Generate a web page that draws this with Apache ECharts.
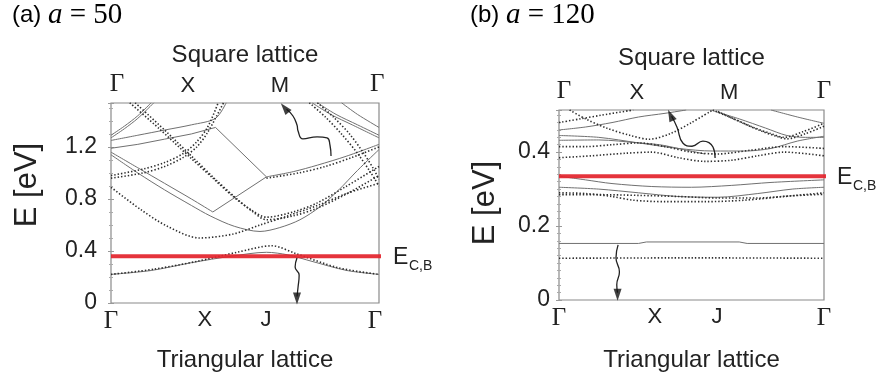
<!DOCTYPE html>
<html>
<head>
<meta charset="utf-8" />
<title>band structure a=50 / a=120</title>
<style>
  html, body { margin: 0; padding: 0; background: #fff; }
  #main { width: 879px; height: 385px; }
</style>
</head>
<body>
<div id="main"></div>
<script src="https://cdn.jsdelivr.net/npm/echarts@6/dist/echarts.min.js"></script>
<script>
// ---- tick labels (position along the k-path, 0..1) ----
var sqNames = ['Γ', 'X', 'M', 'Γ'];
var sqPosA = [0.022, 0.287, 0.63, 0.993];
var sqPosB = [0.019, 0.294, 0.642, 1];
var triNames = ['Γ', 'X', 'J', 'Γ'];
var triPosA = [0, 0.35, 0.578, 0.985];
var triPosB = [0, 0.362, 0.596, 1];

// E_C,B levels
var ecbA = 0.36;
var ecbB = 0.335;

// ---- (a) a = 50, solid bands ----
var aS1 = [[0,1.27],[0.05,1.34],[0.1,1.42],[0.16,1.54]];
var aS1b = [[0,1.29],[0.05,1.36],[0.1,1.44],[0.15,1.54]];
var aS2 = [[0,1.25],[0.1,1.29],[0.2,1.33],[0.3,1.37],[0.39,1.42],[0.43,1.54]];
var aS3 = [[0,1.19],[0.1,1.22],[0.2,1.26],[0.3,1.30],[0.39,1.35],[0.58,0.97]];
var aS4L = [[0,1.16],[0.1,1.04],[0.2,0.92],[0.3,0.80],[0.38,0.70]];
var aS4M = [[0.38,0.70],[0.58,0.97]];
var aS4R = [[0.58,0.97],[0.68,1.01],[0.77,1.06],[0.88,1.13],[1,1.22]];
var aS5 = [[0,1.14],[0.1,1.00],[0.2,0.87],[0.3,0.75],[0.37,0.67],[0.46,0.59],[0.556,0.55],[0.63,0.58],[0.705,0.64],[0.78,0.74],[0.85,0.87],[0.92,1.02],[1,1.18]];
var aS6 = [[0.75,1.54],[0.82,1.45],[0.9,1.37],[1,1.27]];
var aS6b = [[0.77,1.54],[0.84,1.45],[0.92,1.37],[1,1.29]];
var aS7 = [[0.86,1.54],[0.92,1.45],[1,1.35]];
var aS8 = [[0,0.22],[0.15,0.25],[0.3,0.31],[0.45,0.36],[0.58,0.39],[0.66,0.37],[0.75,0.32],[0.88,0.25],[1,0.22]];

// ---- (a) dotted bands ----
var aD1 = [[0,0.22],[0.16,0.26],[0.32,0.32],[0.47,0.39],[0.6,0.44],[0.69,0.38],[0.85,0.27],[1,0.22]];
var aD2 = [[0,0.89],[0.11,0.72],[0.21,0.59],[0.33,0.50],[0.455,0.53],[0.556,0.60],[0.66,0.67],[0.77,0.75],[0.89,0.85],[1,0.92]];
var aD3 = [[0.07,1.54],[0.18,1.34],[0.295,1.12],[0.38,0.96],[0.455,0.82],[0.52,0.72],[0.58,0.66],[0.68,0.70],[0.77,0.77],[0.88,0.9],[1,1.05]];
var aD3b = [[0.09,1.54],[0.2,1.33],[0.31,1.11],[0.39,0.95],[0.47,0.80],[0.53,0.70],[0.58,0.64],[0.68,0.67],[0.77,0.73],[0.88,0.84],[1,0.98]];
var aD4 = [[0,0.96],[0.12,1.0],[0.2,1.05],[0.27,1.12],[0.32,1.2],[0.36,1.31],[0.42,1.54]];
var aD4b = [[0,0.98],[0.12,1.03],[0.2,1.08],[0.27,1.15],[0.32,1.24],[0.36,1.35],[0.40,1.54]];
var aD6 = [[0.74,1.54],[0.8,1.43],[0.86,1.3],[0.92,1.15],[0.97,1.0],[1,0.9]];
var aD6b = [[0.77,1.54],[0.83,1.43],[0.89,1.3],[0.94,1.16],[0.98,1.03],[1,0.95]];
var aD7 = [[0.58,0.96],[0.7,1.0],[0.8,1.05],[0.9,1.12],[1,1.2]];

// ---- (b) a = 120, solid bands ----
var bS1 = [[0,0.335],[0.1,0.325],[0.2,0.315],[0.35,0.307],[0.5,0.305],[0.65,0.31],[0.8,0.318],[1,0.325]];
var bS2 = [[0,0.305],[0.15,0.3],[0.3,0.29],[0.45,0.28],[0.6,0.278],[0.75,0.288],[0.88,0.3],[1,0.305]];
var bS3 = [[0,0.153],[0.3,0.153],[0.33,0.157],[0.68,0.157],[0.71,0.153],[1,0.153]];
var bS4 = [[0,0.445],[0.15,0.44],[0.3,0.425],[0.45,0.41],[0.58,0.403],[0.7,0.403],[0.8,0.41],[0.9,0.43],[1,0.443]];
var bS5 = [[0,0.432],[0.15,0.433],[0.3,0.425],[0.38,0.42],[0.45,0.41],[0.55,0.395]];
var bS6 = [[0.58,0.512],[0.68,0.49],[0.78,0.465],[0.86,0.445],[0.93,0.44],[1,0.44]];
var bS7 = [[0.8,0.514],[0.9,0.495],[1,0.478]];
var bS8 = [[0,0.46],[0.1,0.468],[0.2,0.48],[0.3,0.495],[0.4,0.505],[0.48,0.514]];

// ---- (b) dotted bands ----
var bD1 = [[0,0.48],[0.08,0.49],[0.16,0.5],[0.28,0.514]];
var bD2 = [[0.04,0.514],[0.1,0.49],[0.18,0.465],[0.27,0.445],[0.34,0.435],[0.42,0.45],[0.5,0.48],[0.58,0.514]];
var bD3 = [[0.58,0.514],[0.66,0.49],[0.74,0.465],[0.8,0.45],[0.85,0.44],[0.92,0.455],[1,0.478]];
var bD4 = [[0.6,0.51],[0.68,0.483],[0.76,0.458],[0.82,0.443],[0.86,0.436],[0.93,0.45],[1,0.47]];
var bD5 = [[0,0.415],[0.1,0.415],[0.2,0.42],[0.3,0.425],[0.4,0.415],[0.5,0.4],[0.6,0.395],[0.72,0.405],[0.85,0.415],[1,0.41]];
var bD6 = [[0,0.385],[0.12,0.39],[0.25,0.397],[0.35,0.4],[0.45,0.385],[0.55,0.375],[0.65,0.378],[0.75,0.39],[0.85,0.4],[1,0.39]];
var bD7 = [[0,0.29],[0.1,0.288],[0.2,0.28],[0.28,0.27],[0.4,0.266],[0.55,0.266],[0.7,0.27],[0.85,0.28],[1,0.29]];
var bD8 = [[0,0.285],[0.15,0.285],[0.3,0.283],[0.45,0.28],[0.6,0.276],[0.75,0.276],[0.88,0.282],[1,0.286]];
var bD9 = [[0,0.113],[0.5,0.114],[1,0.113]];

// ---- wavy arrows ----
var waveA1 = [[0.821,1.131],[0.817,1.215],[0.806,1.269],[0.769,1.277],[0.716,1.262],[0.698,1.323],[0.694,1.369],[0.679,1.438],[0.655,1.49]];
var tipA1 = [[0.648,1.50]];
var waveA2 = [[0.694,0.346],[0.687,0.277],[0.702,0.215],[0.698,0.123],[0.694,0.05]];
var tipA2 = [[0.694,0.035]];
var waveB1 = [[0.589,0.384],[0.581,0.414],[0.543,0.43],[0.502,0.416],[0.468,0.424],[0.445,0.468],[0.425,0.497]];
var tipB1 = [[0.421,0.500]];
var waveB2 = [[0.223,0.149],[0.215,0.114],[0.228,0.076],[0.218,0.041],[0.221,0.02]];
var tipB2 = [[0.221,0.014]];

var _txt = '#222';
var _sans = 'Liberation Sans';
var _serif = 'Liberation Serif';

function band(data, dotted, panel, smooth) {
  return {
    type: 'line', data: data, symbol: 'none', silent: true,
    smooth: smooth === false ? false : 0.3,
    xAxisIndex: panel * 2, yAxisIndex: panel * 2,
    lineStyle: dotted ? { color: '#2e2e2e', width: 1.6, type: [1.4, 2] }
                      : { color: '#707070', width: 1 }
  };
}
function redLine(v, panel) {
  return {
    type: 'line', data: [[0, v], [1.03, v]], symbol: 'none', clip: false, z: 5,
    xAxisIndex: panel * 2, yAxisIndex: panel * 2,
    lineStyle: { color: '#e3232b', width: 4, opacity: 0.92 }
  };
}
function wave(data, tip, rot, panel) {
  return [{
    type: 'line', data: data, symbol: 'none', smooth: 0.5, z: 6,
    xAxisIndex: panel * 2, yAxisIndex: panel * 2,
    lineStyle: { color: '#222', width: 1.3 }
  }, {
    type: 'scatter', data: tip, symbol: 'triangle', symbolSize: [8, 12],
    symbolRotate: rot, z: 7, xAxisIndex: panel * 2, yAxisIndex: panel * 2,
    itemStyle: { color: '#111' }
  }];
}
function kLabel(names, pos) {
  return function (v) {
    var i = pos.indexOf(v);
    var n = i < 0 ? '' : names[i];
    return n === 'Γ' ? '{g|Γ}' : '{s|' + n + '}';
  };
}
var kRich = {
  g: { fontFamily: _serif, fontSize: 25, color: _txt },
  s: { fontFamily: _sans, fontSize: 22, color: _txt }
};
function xAxes(gi, botPos, topPos, botGap, topGap) {
  return [{
    type: 'value', gridIndex: gi, position: 'bottom', min: 0, max: 1,
    axisLine: { show: false }, axisTick: { show: false }, splitLine: { show: false },
    axisLabel: { customValues: botPos, formatter: kLabel(triNames, botPos), rich: kRich, margin: 6 },
    name: 'Triangular lattice', nameLocation: 'middle', nameGap: botGap,
    nameTextStyle: { fontFamily: _sans, fontSize: 24, color: _txt }
  }, {
    type: 'value', gridIndex: gi, position: 'top', min: 0, max: 1,
    axisLine: { show: false }, axisTick: { show: false }, splitLine: { show: false },
    axisLabel: { customValues: topPos, formatter: kLabel(sqNames, topPos), rich: kRich, margin: 6 },
    name: 'Square lattice', nameLocation: 'middle', nameGap: topGap,
    nameTextStyle: { fontFamily: _sans, fontSize: 24, color: _txt }
  }];
}
function yAxes(gi, max, interval, minorSplit, margin) {
  return [{
    type: 'value', gridIndex: gi, min: 0, max: max, interval: interval,
    axisLine: { show: false }, splitLine: { show: false },
    axisTick: { show: true, inside: true, length: 3, lineStyle: { color: '#999' } },
    minorTick: { show: true, splitNumber: minorSplit, length: 2, lineStyle: { color: '#aaa' } },
    axisLabel: { showMaxLabel: false, margin: margin, fontFamily: _sans, fontSize: 23, color: _txt,
      formatter: function (v) { return v === 0 ? '0' : v.toFixed(1); } }
  }, {
    type: 'value', gridIndex: gi, position: 'right', min: 0, max: max, interval: interval,
    axisLine: { show: false }, splitLine: { show: false }, axisLabel: { show: false },
    axisTick: { show: true, inside: true, length: 3, lineStyle: { color: '#999' } },
    minorTick: { show: true, splitNumber: minorSplit, length: 2, lineStyle: { color: '#aaa' } }
  }];
}

var series = [];
[aS1, aS1b, aS2, aS4L, aS4R, aS5, aS6, aS6b, aS7, aS8].forEach(function (d) { series.push(band(d, false, 0)); });
series.push(band(aS3, false, 0, false), band(aS4M, false, 0, false));
[aD1, aD2, aD3, aD3b, aD4, aD4b, aD6, aD6b, aD7].forEach(function (d) { series.push(band(d, true, 0)); });
[bS1, bS2, bS4, bS5, bS6, bS7, bS8].forEach(function (d) { series.push(band(d, false, 1)); });
series.push(band(bS3, false, 1, false));
[bD1, bD2, bD3, bD4, bD5, bD6, bD7, bD8, bD9].forEach(function (d) { series.push(band(d, true, 1)); });
series.push(redLine(ecbA, 0), redLine(ecbB, 1));
series = series.concat(wave(waveA1, tipA1, 40, 0), wave(waveA2, tipA2, 180, 0),
                       wave(waveB1, tipB1, 25, 1), wave(waveB2, tipB2, 180, 1));

var titleRich = {
  p: { fontFamily: _sans, fontSize: 24, color: _txt },
  i: { fontFamily: _serif, fontSize: 29, fontStyle: 'italic', color: _txt },
  t: { fontFamily: _serif, fontSize: 29, color: _txt }
};

var myChart = echarts.init(document.getElementById('main'));
myChart.setOption({
  animation: false,
  backgroundColor: '#fff',
  grid: [
    { left: 111, top: 103, width: 268, height: 200, show: true, borderColor: '#8a8a8a', borderWidth: 1.2 },
    { left: 559, top: 110, width: 265, height: 190, show: true, borderColor: '#8a8a8a', borderWidth: 1.2 }
  ],
  xAxis: xAxes(0, triPosA, sqPosA, 45, 33).concat(xAxes(1, triPosB, sqPosB, 48, 40)),
  yAxis: yAxes(0, 1.538, 0.4, 4, 14).concat(yAxes(1, 0.514, 0.2, 10, 9)),
  series: series,
  graphic: [
    { type: 'text', left: 12, top: 1, style: { text: '{p|(a) }{i|a}{t| = 50}', rich: titleRich } },
    { type: 'text', left: 470, top: 1, style: { text: '{p|(b) }{i|a}{t| = 120}', rich: titleRich } },
    { type: 'text', x: 27, y: 185, rotation: Math.PI / 2,
      style: { text: 'E [eV]', font: '31px "Liberation Sans"', fill: _txt, align: 'center', verticalAlign: 'middle' } },
    { type: 'text', x: 485, y: 203, rotation: Math.PI / 2,
      style: { text: 'E [eV]', font: '31px "Liberation Sans"', fill: _txt, align: 'center', verticalAlign: 'middle' } },
    { type: 'text', x: 393, y: 258, style: { text: 'E', font: '23px "Liberation Sans"', fill: _txt, verticalAlign: 'middle' } },
    { type: 'text', x: 409, y: 266, style: { text: 'C,B', font: '14px "Liberation Sans"', fill: _txt, verticalAlign: 'middle' } },
    { type: 'text', x: 837, y: 178, style: { text: 'E', font: '23px "Liberation Sans"', fill: _txt, verticalAlign: 'middle' } },
    { type: 'text', x: 853, y: 186, style: { text: 'C,B', font: '14px "Liberation Sans"', fill: _txt, verticalAlign: 'middle' } }
  ]
});
</script>
</body>
</html>
